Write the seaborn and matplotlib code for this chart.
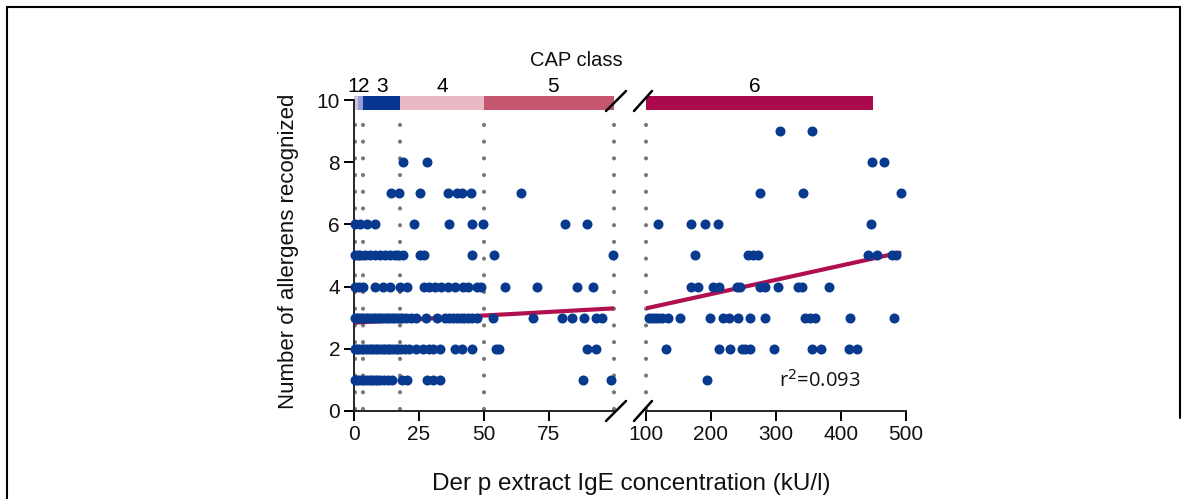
import numpy as np
import pandas as pd
import matplotlib
matplotlib.use("Agg")
import matplotlib.pyplot as plt
import seaborn as sns
from matplotlib.lines import Line2D

# ---------------- data ----------------
left_y1 = [0.3, 1, 2, 3, 4, 5, 6, 7, 8, 9, 10, 11.5, 13, 14.5, 18.5, 20.5, 28, 30.5, 33, 88.2, 98.8]
left_y2 = [0.3, 1.2, 2, 3, 4, 5, 6, 7, 8, 9, 10, 11, 12, 13, 14, 15, 16, 17, 18, 19.5, 21, 24,
           26.5, 29, 30.5, 33, 39, 41.5, 45.5, 54.6, 55.9, 89.5, 93]
left_y3 = [0.3, 1, 1.8, 2.8, 3.5, 4.5, 5.5, 6.5, 7.5, 8.5, 9.5, 10.5, 11.5, 12.5, 13.5, 14.5,
           15.5, 16.5, 17.5, 18.5, 20, 22, 24, 27.5, 32, 35, 36.5, 38, 39.5, 41, 42.5, 44, 45.5,
           47.5, 53.6, 69, 80, 84, 88.6, 93, 95.5]
left_y4 = [0.5, 2, 3.5, 8, 11, 14, 17.5, 20.5, 27, 29, 31, 33.5, 36, 39, 42, 44, 47.5, 49, 58,
           70.3, 85.7, 92]
left_y5 = [0.4, 1.5, 2.3, 4.2, 6.2, 8.1, 10, 11.9, 13.8, 15.8, 16.9, 18.8, 25.4, 26.9, 45.3,
           53.7, 99.7]
left_y6 = [0.3, 2.3, 5, 8, 23, 36.5, 45.3, 49.7, 81, 89.7]
left_y7 = [14.2, 17.4, 25.5, 36.0, 39.7, 41.7, 45.0, 64.3]
left_y8 = [18.7, 28.2]

right_y1 = [194]
right_y2 = [130, 213, 230, 247, 253, 260, 297, 356, 369, 412, 425]
right_y3 = [104, 109, 114, 119, 124, 134, 152, 198, 219, 227, 241, 260, 283, 345, 352, 360, 414, 482]
right_y4 = [169, 180, 203, 213, 240, 244, 275, 283, 303, 334, 340, 382]
right_y5 = [175, 257, 265, 272, 442, 456, 478, 484]
right_y6 = [119, 169, 191, 211, 446]
right_y7 = [275, 341, 493]
right_y8 = [447, 466]
right_y9 = [306, 355]

# regression line
fit_x = [0, 100, 490]
fit_y = [2.84, 3.30, 5.09]

# CAP classes
cap_labels = ["1", "2", "3", "4", "5", "6"]
cap_start = [0, 1.5, 3.5, 17.5, 50, 100]
cap_end = [1.5, 3.5, 17.5, 50, 100, 450]
cap_colors = ["#c8c6e3", "#9b9ad0", "#063592", "#e9bac5", "#c5566f", "#aa0a4d"]
cap_label_x = [-0.3, 3.9, 10.7, 34.0, 76.5, 268]
cap_bounds = [0.35, 3.5, 17.5, 50, 100]

left_ticks = [0, 25, 50, 75]
right_ticks = [100, 200, 300, 400, 500]
y_ticks = [0, 2, 4, 6, 8, 10]

# ---------------- build frames ----------------
def frame(groups):
    rows = []
    for yv, xs in groups:
        rows += [(x, yv) for x in xs]
    return pd.DataFrame(rows, columns=["conc", "n"])

left_df = frame([(1, left_y1), (2, left_y2), (3, left_y3), (4, left_y4), (5, left_y5),
                 (6, left_y6), (7, left_y7), (8, left_y8)])
right_df = frame([(1, right_y1), (2, right_y2), (3, right_y3), (4, right_y4), (5, right_y5),
                  (6, right_y6), (7, right_y7), (8, right_y8), (9, right_y9)])
fit_df = pd.DataFrame({"conc": fit_x, "n": fit_y})

sns.set_theme(style="ticks")
plt.rcParams['font.family'] = ['Liberation Sans', 'DejaVu Sans']

W, H = 1187, 499
fig = plt.figure(figsize=(W / 100, H / 100), dpi=100)

y0_px, ppu = 411, 31.1
ylim = (0, 10.3)
ax_bottom = 1 - y0_px / H
ax_height = (ylim[1] - ylim[0]) * ppu / H

axL = fig.add_axes([354 / W, ax_bottom, (614 - 354) / W, ax_height])
axR = fig.add_axes([646 / W, ax_bottom, (906 - 646) / W, ax_height])

point_color = "#073a8e"
line_color = "#b0104f"
dot_color = "#777777"
tick_fs = 15

for ax, df, xlim in [(axL, left_df, (0, 100)), (axR, right_df, (100, 500))]:
    ax.set_xlim(*xlim)
    ax.set_ylim(*ylim)
    ax.patch.set_alpha(0)
    # vertical class boundaries
    for b in cap_bounds:
        if xlim[0] <= b <= xlim[1]:
            ax.plot([b, b], [0.05, 9.6], color=dot_color, lw=3.0, ls=(0, (0.01, 4.0)),
                    zorder=1, clip_on=False, dash_capstyle="round", solid_capstyle="round")
    sns.scatterplot(data=df, x="conc", y="n", ax=ax, color=point_color, s=52,
                    linewidth=0, zorder=3, clip_on=False, legend=False)
    sub = fit_df[(fit_df.conc >= xlim[0]) & (fit_df.conc <= xlim[1])]
    sns.lineplot(data=sub, x="conc", y="n", ax=ax, color=line_color, lw=3,
                 zorder=2.5, legend=False)
    # class bar
    for s0, s1, c in zip(cap_start, cap_end, cap_colors):
        a, b = max(s0, xlim[0]), min(s1, xlim[1])
        if b > a:
            ax.barh(9.9, b - a, left=a, height=0.45, color=c, zorder=2, clip_on=False,
                    linewidth=0)
    for lab, lx in zip(cap_labels, cap_label_x):
        if (xlim[0] - 2) <= lx <= xlim[1]:
            ax.text(lx, 10.42, lab, ha="center", va="center", fontsize=tick_fs, color="black")
    ax.set_xlabel("")
    ax.set_ylabel("")
    ax.spines["top"].set_visible(False)
    ax.spines["right"].set_visible(False)
    ax.spines["bottom"].set_linewidth(1.4)
    ax.spines["left"].set_linewidth(1.4)
    ax.tick_params(axis="both", length=7, width=1.4, labelsize=tick_fs, pad=3, color="black",
                   labelcolor="#111111")

axL.set_xticks(left_ticks)
axL.set_yticks(y_ticks)
axL.spines["left"].set_bounds(0, 10)
axR.set_xticks(right_ticks)
axR.set_yticks([])
axR.spines["left"].set_visible(False)

axL.set_ylabel("Number of allergens recognized", fontsize=16, labelpad=13, color="#111111")

fig.text(631 / W, 1 - 484 / H, "Der p extract IgE concentration (kU/l)", ha="center",
         va="center", fontsize=17.5, color="#111111")
fig.text(576 / W, 1 - 60 / H, "CAP class", ha="center", va="center", fontsize=14.5,
         color="#111111")
axR.text(0.67, 0.094, "r$^2$=0.093", transform=axR.transAxes, ha="center", va="center",
         fontsize=14.5, family=["Open Sans", "DejaVu Sans"], color="#111111")

# break marks (axes coordinates)
wl = (614 - 354)
wr = (906 - 646)
hh = ylim[1] * ppu
for ya_px in (411, 101):
    xa = (616 - 354) / wl
    ya = (411 - ya_px) / hh
    axL.plot([xa - 10 / wl, xa + 10 / wl], [ya - 10 / hh, ya + 10 / hh],
             transform=axL.transAxes, color="black", lw=1.8, clip_on=False, zorder=5)
for ya_px in (411, 101):
    xa = (643 - 646) / wr
    ya = (411 - ya_px) / hh
    axR.plot([xa - 9 / wr, xa + 9 / wr], [ya - 10 / hh, ya + 10 / hh],
             transform=axR.transAxes, color="black", lw=1.8, clip_on=False, zorder=5)

# figure border
for xs, ys in [([6.5, 6.5], [H, 7]), ([6.5, 1180], [7, 7]), ([1180, 1180], [7, 418])]:
    fig.add_artist(Line2D([x / W for x in xs], [1 - y / H for y in ys], color="black", lw=1.5))

fig.savefig("out.png", dpi=100)
